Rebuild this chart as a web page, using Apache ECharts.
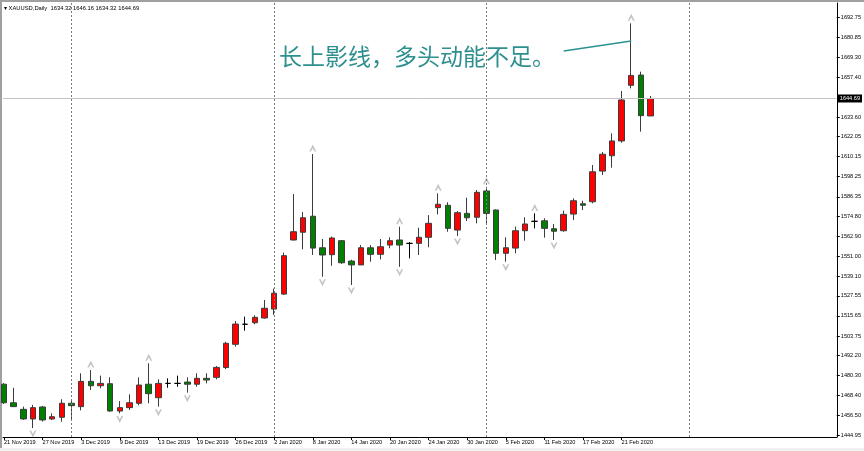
<!DOCTYPE html>
<html><head><meta charset="utf-8">
<script src="https://cdn.jsdelivr.net/npm/echarts@6/dist/echarts.min.js"></script>
<style>html,body{margin:0;padding:0;background:#fff}#c{width:864px;height:451px}</style>
</head><body><div id="c"></div>
<script>
// ---- data ----
const symbolName = 'XAUUSD,Daily';
const tickBars = [0, 4, 8, 12, 16, 20, 24, 28, 32, 36, 40, 44, 48, 52, 56, 60, 64];
const tickLabels = ['21 Nov 2019', '27 Nov 2019', '3 Dec 2019', '9 Dec 2019', '13 Dec 2019', '19 Dec 2019',
  '26 Dec 2019', '2 Jan 2020', '8 Jan 2020', '14 Jan 2020', '20 Jan 2020', '24 Jan 2020', '30 Jan 2020',
  '5 Feb 2020', '11 Feb 2020', '17 Feb 2020', '21 Feb 2020'];
const priceTicks = [1692.75, 1680.85, 1669.30, 1657.40, 1633.60, 1622.05, 1610.15, 1598.25, 1586.35, 1574.80,
  1562.90, 1551.00, 1539.10, 1527.55, 1515.65, 1503.75, 1492.20, 1480.30, 1468.40, 1456.50, 1444.95];
const opens = [1475.1, 1464.1, 1460.2, 1454.5, 1461.6, 1454.5, 1455.5, 1463.8, 1461.8, 1476.8,
  1474.2, 1475.4, 1459.2, 1461.2, 1463.8, 1475.1, 1467.1, 1475.6, 1475.6, 1476.4,
  1475.1, 1478.6, 1479.2, 1485.0, 1498.8, 1510.7, 1511.6, 1514.4, 1519.7, 1528.6,
  1560.7, 1565.3, 1574.8, 1556.1, 1552.0, 1560.3, 1548.2, 1545.9, 1556.1, 1552.2,
  1557.7, 1560.7, 1558.7, 1558.7, 1562.3, 1579.9, 1581.3, 1566.6, 1576.5, 1574.2,
  1589.8, 1578.5, 1552.8, 1555.9, 1566.2, 1571.8, 1572.1, 1567.4, 1566.2, 1576.1,
  1582.2, 1583.4, 1601.6, 1610.7, 1619.5, 1652.5, 1658.6, 1634.32];
const closes = [1464.1, 1461.8, 1454.5, 1461.2, 1453.9, 1455.8, 1463.8, 1462.4, 1476.8, 1474.2,
  1475.6, 1459.2, 1461.2, 1464.1, 1474.6, 1469.5, 1475.6, 1475.6, 1475.6, 1475.1,
  1478.6, 1477.6, 1485.1, 1499.4, 1510.8, 1510.7, 1514.8, 1520.2, 1529.1, 1551.4,
  1565.6, 1573.9, 1555.9, 1551.8, 1561.9, 1547.2, 1545.9, 1556.1, 1552.2, 1556.7,
  1560.3, 1557.7, 1558.7, 1562.3, 1570.6, 1581.9, 1567.6, 1576.9, 1573.9, 1589.0,
  1576.5, 1552.8, 1556.1, 1566.2, 1570.2, 1571.8, 1567.6, 1565.9, 1575.9, 1584.0,
  1581.3, 1601.2, 1611.6, 1619.5, 1643.8, 1658.4, 1634.5, 1644.69];
const lows = [1463.4, 1461.6, 1453.9, 1449.1, 1452.9, 1453.9, 1452.9, 1453.9, 1459.6, 1471.7,
  1472.7, 1458.8, 1457.8, 1459.8, 1462.6, 1463.8, 1461.8, 1473.0, 1473.6, 1470.1,
  1473.6, 1475.6, 1478.0, 1484.1, 1497.4, 1506.9, 1510.7, 1514.0, 1516.2, 1528.1,
  1560.4, 1555.2, 1551.8, 1538.9, 1545.4, 1546.5, 1534.0, 1545.9, 1547.8, 1549.2,
  1555.8, 1544.8, 1549.8, 1551.8, 1556.4, 1575.9, 1565.6, 1563.1, 1572.0, 1570.6,
  1570.6, 1548.8, 1547.8, 1552.8, 1560.3, 1567.6, 1562.1, 1560.7, 1565.6, 1572.6,
  1578.5, 1582.5, 1599.3, 1603.6, 1618.4, 1650.7, 1625.0, 1634.32];
const highs = [1475.8, 1473.0, 1461.8, 1462.8, 1462.2, 1457.8, 1466.2, 1465.7, 1481.6, 1483.5,
  1480.2, 1479.2, 1465.1, 1469.1, 1479.2, 1487.5, 1478.0, 1478.6, 1480.2, 1479.2,
  1481.6, 1481.6, 1485.9, 1500.3, 1512.6, 1515.2, 1516.0, 1525.1, 1531.8, 1553.2,
  1588.0, 1577.3, 1611.7, 1561.3, 1562.7, 1560.7, 1549.0, 1557.7, 1557.7, 1561.3,
  1562.3, 1568.6, 1559.5, 1568.0, 1575.5, 1588.4, 1583.1, 1577.9, 1585.8, 1590.4,
  1592.3, 1578.9, 1562.3, 1568.6, 1574.2, 1576.5, 1573.6, 1570.2, 1578.1, 1585.4,
  1584.0, 1605.2, 1612.9, 1624.0, 1649.1, 1689.3, 1660.6, 1646.16];
const upFractalBars = [9, 15, 32, 41, 45, 50, 55, 65];
const downFractalBars = [3, 12, 16, 19, 33, 36, 41, 47, 52, 57];
const separatorBars = [7, 28, 50, 71];
const noteText = '长上影线，多头动能不足。';
const noteLine = [[58, 1672.9], [65, 1678.8]];

// ---- chart ----
const last = opens.length - 1;
const lastClose = closes[last];
const candles = opens.map((o, i) => [i, o, closes[i], lows[i], highs[i]]);
const upFr = upFractalBars.map(i => [i, highs[i]]);
const dnFr = downFractalBars.map(i => [i, lows[i]]);
const fmt = v => v.toFixed(2);
const header = symbolName + '  ' + [opens[last], highs[last], lows[last], closes[last]].map(fmt).join(' ');
const arrowPath = 'path://M5,0 L10,10 L7.6,10 L5,5.2 L2.4,10 L0,10 Z';
const FONT = 'Liberation Sans';

const chart = echarts.init(document.getElementById('c'), null, {renderer: 'canvas'});
chart.setOption({
  animation: false,
  backgroundColor: '#ffffff',
  grid: {left: 3, right: 27, top: 3, bottom: 14},
  xAxis: {
    type: 'value', min: -0.1, max: 86.3,
    splitLine: {show: false},
    axisLine: {show: true, onZero: false, lineStyle: {color: '#000', width: 1}},
    axisTick: {show: true, customValues: tickBars, length: 3, inside: false, lineStyle: {color: '#000'}},
    axisLabel: {
      customValues: tickBars, align: 'left', margin: 2,
      formatter: v => tickLabels[tickBars.indexOf(Math.round(v))] || '',
      fontSize: 5.6, fontFamily: FONT, color: '#000'
    }
  },
  yAxis: {
    type: 'value', position: 'right', min: 1443.78, max: 1701.36,
    splitLine: {show: false},
    axisLine: {show: true, onZero: false, lineStyle: {color: '#000', width: 1}},
    axisTick: {show: true, customValues: priceTicks, length: 3, inside: false, lineStyle: {color: '#000'}},
    axisLabel: {
      customValues: priceTicks, margin: 4, formatter: v => fmt(v),
      fontSize: 5.6, fontFamily: FONT, color: '#000'
    }
  },
  series: [
    {
      type: 'candlestick',
      data: candles,
      encode: {x: 0, y: [1, 2, 3, 4]},
      barWidth: 6,
      itemStyle: {
        color: '#ff0000', color0: '#008000',
        borderColor: '#3c3c3c', borderColor0: '#3c3c3c', borderColorDoji: '#000000',
        borderWidth: 1
      },
      markLine: {
        silent: true, symbol: ['none', 'none'], animation: false,
        data: [
          ...separatorBars.map(b => ({xAxis: b, lineStyle: {color: '#7a7a7a', type: [2, 2], width: 1}, label: {show: false}})),
          {yAxis: lastClose, lineStyle: {color: '#c4c4c4', type: 'solid', width: 1},
            label: {show: true, position: 'end', formatter: () => fmt(lastClose), color: '#fff',
              backgroundColor: '#000', padding: [1, 2, 1, 2], fontSize: 5.6, fontFamily: FONT, distance: 1}},
          [{coord: noteLine[0], lineStyle: {color: '#2a9393', type: 'solid', width: 1.5}, label: {show: false}},
           {coord: noteLine[1]}]
        ]
      }
    },
    {
      type: 'scatter', data: upFr, symbol: arrowPath, symbolSize: [7, 7], symbolOffset: [0, -6],
      itemStyle: {color: '#b4b4bc'}, silent: true, z: 3
    },
    {
      type: 'scatter', data: dnFr, symbol: arrowPath, symbolRotate: 180, symbolSize: [7, 7], symbolOffset: [0, 6],
      itemStyle: {color: '#b4b4bc'}, silent: true, z: 3
    }
  ],
  graphic: [
    {type: 'line', shape: {x1: 0, y1: 1, x2: 864, y2: 1}, style: {stroke: '#a0a0a0', lineWidth: 2}, silent: true},
    {type: 'line', shape: {x1: 1, y1: 0, x2: 1, y2: 451}, style: {stroke: '#a0a0a0', lineWidth: 2}, silent: true},
    {type: 'rect', shape: {x: 0, y: 448, width: 864, height: 3}, style: {fill: '#f0f0f0'}, silent: true},
    {type: 'text', left: 4, top: 5, style: {text: '▾ ' + header, fontSize: 5.8, fontFamily: FONT, fill: '#000'}, silent: true},
    {type: 'text', left: 279, top: 45, style: {text: noteText, fontSize: 23, fontFamily: 'Noto Sans CJK SC', fill: '#2e8f8f'}, silent: true}
  ]
});
</script></body></html>
